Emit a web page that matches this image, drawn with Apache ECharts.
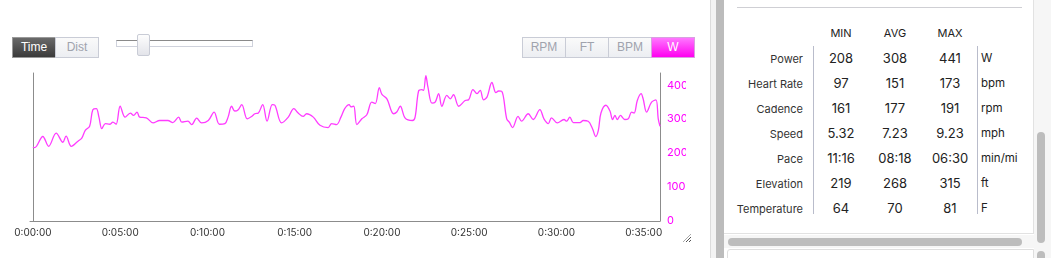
<!DOCTYPE html>
<html><head><meta charset="utf-8">
<script src="https://cdn.jsdelivr.net/npm/echarts@6/dist/echarts.min.js"></script>
<style>
html,body{margin:0;padding:0;background:#fff;width:1051px;height:258px;overflow:hidden;font-family:Inter,"Noto Sans",sans-serif;}
.abs{position:absolute;box-sizing:border-box;}
.btn{position:absolute;box-sizing:border-box;height:21px;top:37px;font:12px "Liberation Sans",Arial,sans-serif;line-height:19px;text-align:center;color:#a0a3ad;background:linear-gradient(#fafafa,#eceef2);border:1px solid #c9ccd6;}
#chart{position:absolute;left:0;top:60px;width:686px;height:190px;}
.lab{position:absolute;text-align:right;width:100px;left:703px;font-size:11px;color:#333;}
.val{position:absolute;width:50px;text-align:center;font-size:13px;color:#222;}
.unit{position:absolute;left:981px;font-size:11.5px;color:#222;}
.hd{position:absolute;width:50px;text-align:center;font-size:11px;color:#222;}
</style></head>
<body>
<!-- left controls -->
<div class="btn" style="left:12px;width:44px;color:#fff;background:linear-gradient(#6a6a6a,#3a3a3a);border-color:#999;">Time</div>
<div class="btn" style="left:55px;width:44px;">Dist</div>
<div class="abs" style="left:116px;top:40px;width:137px;height:7px;border:1px solid #cfd2dc;border-top:1px solid #8a8a8a;background:#fff;"></div>
<div class="abs" style="left:137px;top:34px;width:13px;height:22px;border:1px solid #c9ccd6;border-radius:2px;background:linear-gradient(#fdfdfd,#e3e4ea);"></div>
<div class="btn" style="left:522px;width:44px;">RPM</div>
<div class="btn" style="left:565px;width:44px;">FT</div>
<div class="btn" style="left:608px;width:44px;">BPM</div>
<div class="btn" style="left:651px;width:44px;color:#fff;background:linear-gradient(#ff77ff,#ff00f0);border-color:#d8a0e0;">W</div>
<div id="chart"></div>
<div class="abs" style="left:683px;top:234px;width:8px;height:8px;background:repeating-linear-gradient(135deg,transparent 0 1.2px,#555 1.2px 2px);clip-path:polygon(100% 0,100% 100%,0 100%);"></div>

<!-- right panel -->
<div class="abs" style="left:710px;top:0;width:1px;height:258px;background:#dcdcdc;"></div>
<div class="abs" style="left:711px;top:0;width:5px;height:258px;background:#f3f3f3;"></div>
<div class="abs" style="left:716px;top:0;width:8px;height:258px;background:#bcbcbc;"></div>
<div class="abs" style="left:724px;top:0;width:310px;height:234px;background:#fff;border-right:1px solid #e2e2e2;border-bottom:1px solid #e2e2e2;"></div>
<div class="abs" style="left:1034px;top:0;width:17px;height:258px;background:#f6f6f6;"></div>
<div class="abs" style="left:1037px;top:132px;width:8px;height:111px;border-radius:4px;background:#bdbdbd;"></div>
<div class="abs" style="left:1037px;top:251px;width:8px;height:20px;border-radius:4px;background:#bdbdbd;"></div>
<div class="abs" style="left:724px;top:235px;width:310px;height:13px;background:#f6f6f6;"></div>
<div class="abs" style="left:728px;top:238px;width:294px;height:8px;border-radius:4px;background:#bdbdbd;"></div>
<div class="abs" style="left:727px;top:249px;width:307px;height:12px;background:#fff;border:1px solid #dedede;border-radius:3px 0 0 0;"></div>
<div class="abs" style="left:737px;top:7px;width:285px;height:1px;background:#cfcfd4;"></div>
<div class="abs" style="left:813px;top:46px;width:1px;height:168px;background:#b9bccb;"></div>
<div class="abs" style="left:977px;top:46px;width:1px;height:168px;background:#b9bccb;"></div>
<div id="tbl"></div>

<script>
// ---- data ----
var statHeaders = ['MIN', 'AVG', 'MAX'];
var statLabels = ['Power', 'Heart Rate', 'Cadence', 'Speed', 'Pace', 'Elevation', 'Temperature'];
var statMin = ['208', '97', '161', '5.32', '11:16', '219', '64'];
var statAvg = ['308', '151', '177', '7.23', '08:18', '268', '70'];
var statMax = ['441', '173', '191', '9.23', '06:30', '315', '81'];
var statUnits = ['W', 'bpm', 'rpm', 'mph', 'min/mi', 'ft', 'F'];

var xTickValues = [0, 300, 600, 900, 1200, 1500, 1800, 2100];
var yTickValues = [0, 100, 200, 300, 400];

var timeSec = [0,6,34,54,80,103,114,132,155,168,180,195,206,218,227,237,249,264,275,286,300,317,335,346,358,367,390,413,436,464,481,501,512,533,
546,563,580,603,623,641,660,671,683,694,706,718,737,752,763,775,790,805,823,832,855,878,897,912,929,941,964,987,1015,1027,1044,1059,1072,
1087,1094,1103,1114,1131,1148,1165,1177,1191,1200,1217,1240,1251,1263,1280,1305,1314,1326,1337,1343,1351,1358,1372,1383,1395,1406,1423,1435,1446,1464,1486,1498,1513,1527,1538,1549,1561,1578,1592,1601,1612,
1629,1638,1649,1668,1680,1703,1720,1743,1757,1772,1783,1803,1826,1835,1846,1858,1881,1892,1909,1924,1935,1944,1953,1970,1984,1993,2001,2009,2020,2035,2047,2058,2067,2078,2091,2098,2110,2127,2142,2150,2156];
var powerW = [218,216,249,220,259,232,250,220,235,244,267,279,328,331,306,272,287,285,291,285,338,306,318,311,321,306,304,289,296,296,290,306,291,294,
284,303,289,296,321,285,287,306,338,324,328,343,301,308,316,318,343,294,343,341,289,306,331,318,308,316,306,282,275,287,284,306,331,
343,336,338,284,301,313,350,346,393,373,360,316,321,338,303,296,306,383,387,385,428,395,347,350,375,338,370,360,372,338,355,357,387,375,385,357,365,408,378,383,382,
301,291,275,308,294,316,299,328,301,287,304,289,299,294,306,290,290,296,294,272,249,267,318,341,324,299,311,299,311,299,301,321,318,355,375,360,321,350,357,301,279];

// ---- table ----
(function(){
  var root = document.getElementById('tbl'), h = '';
  var cx = [841, 895, 950];
  statHeaders.forEach(function(t,i){ h += '<div class="hd" style="left:'+(cx[i]-25)+'px;top:26px;">'+t+'</div>'; });
  var cols = [statMin, statAvg, statMax];
  statLabels.forEach(function(l,r){
    var y = 50 + r*25;
    h += '<div class="lab" style="top:'+(y+2)+'px;">'+l+'</div>';
    cols.forEach(function(c,i){ h += '<div class="val" style="left:'+(cx[i]-25)+'px;top:'+y+'px;">'+c[r]+'</div>'; });
    h += '<div class="unit" style="top:'+(y+1)+'px;">'+statUnits[r]+'</div>';
  });
  root.innerHTML = h;
})();

function fmt(v){
  var m = Math.floor(v/60), s = v%60;
  return '0:' + (m<10?'0':'') + m + ':' + (s<10?'0':'') + s;
}

var chart = echarts.init(document.getElementById('chart'), null, {renderer:'canvas'});
var pts = timeSec.map(function(t,i){ return [t, powerW[i]]; });
chart.setOption({
  animation:false,
  grid:{left:30, right:26, top:13, bottom:29, containLabel:false, outerBoundsMode:'none'},
  xAxis:{
    type:'value', min:-10, max:2156,
    axisLine:{show:true, lineStyle:{color:'#8c8c8c', width:1}},
    axisTick:{show:false},
    splitLine:{show:false},
    axisLabel:{customValues:xTickValues, formatter:fmt, color:'#333', fontSize:10, fontFamily:'Inter', margin:7}
  },
  yAxis:[
    {type:'value', min:0, max:436, position:'left',
     axisLine:{show:true, lineStyle:{color:'#8c8c8c'}}, axisTick:{show:false}, axisLabel:{show:false}, splitLine:{show:false}},
    {type:'value', min:0, max:436, position:'right',
     axisLine:{show:true, lineStyle:{color:'#8c8c8c'}}, axisTick:{show:false}, splitLine:{show:false},
     axisLabel:{customValues:yTickValues, color:'#ff00ff', fontSize:11, fontFamily:'Inter', margin:7}}
  ],
  series:[{
    type:'line', yAxisIndex:1, data:pts, showSymbol:false, smooth:0.35,
    lineStyle:{color:'#ff3cff', width:1.3}
  }]
});
</script>
</body></html>
